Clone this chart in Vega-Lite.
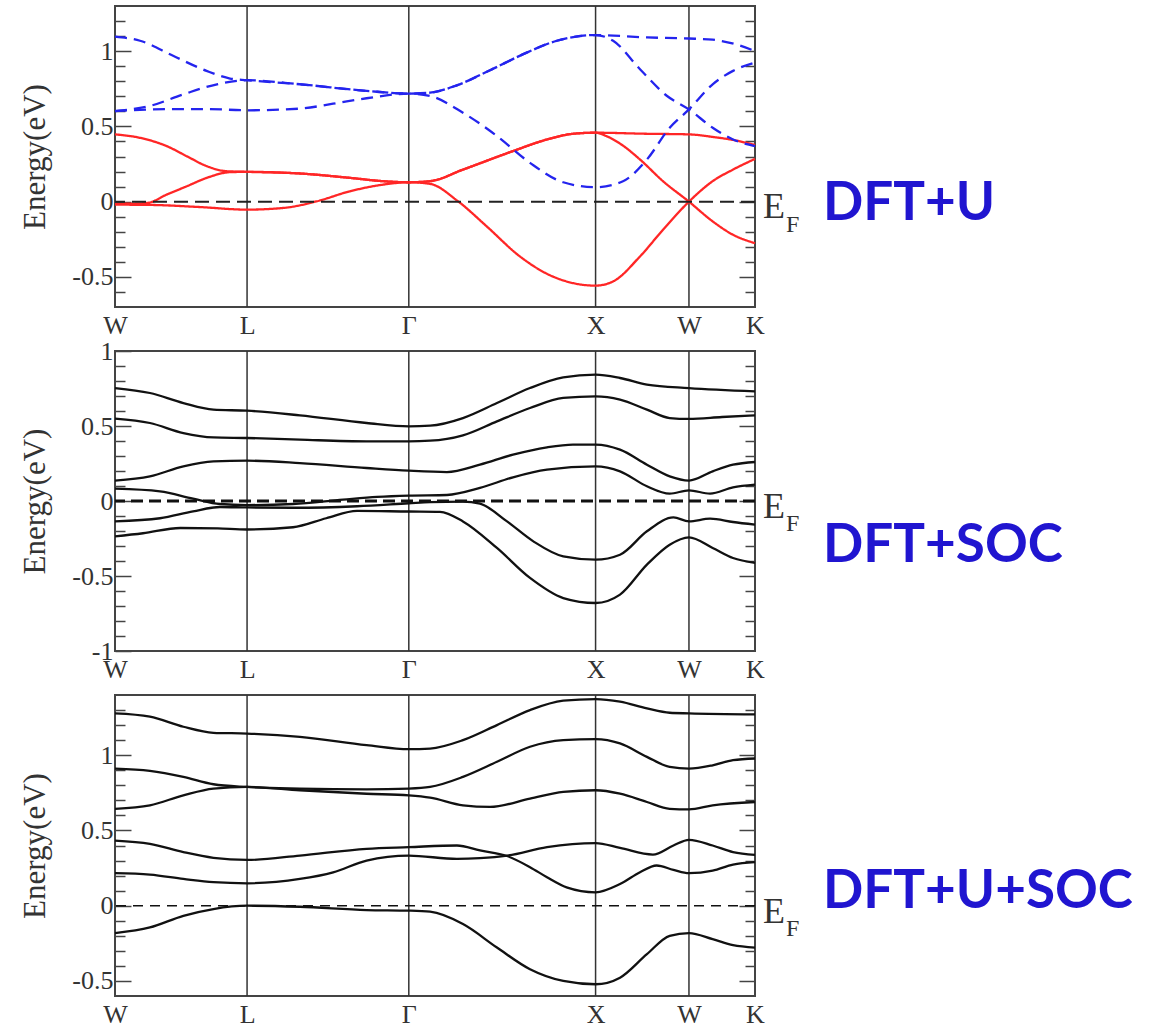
{
"$schema": "https://vega.github.io/schema/vega-lite/v6.json",
"background": "white",
"padding": {"left": 18, "top": 4, "right": 5, "bottom": 30},
"config": {"view": {"stroke": "#444", "strokeWidth": 2}, "axis": {"grid": false, "domain": false, "labelFont": "Liberation Serif", "titleFont": "Liberation Serif", "labelColor": "#333", "titleColor": "#333", "tickColor": "#444", "tickWidth": 1.5, "titleFontWeight": "normal"}, "axisX": {"labelExpr": "datum.value < 0.3 ? 'W' : datum.value < 1 ? 'L' : datum.value < 2 ? 'Γ' : datum.value < 3 ? 'X' : datum.value < 3.3 ? 'W' : 'K'", "ticks": false, "labelFontSize": 26, "labelPadding": 5, "labelFlush": false, "labelOverlap": false}},
"spacing": 44,
"bounds": "flush",
"datasets": {
"sym": [{"k": 0.7071}, {"k": 1.5731}, {"k": 2.5731}, {"k": 3.0731}],
"p1": [
{"band":"R1","spin":"up","k":0,"e":0.447},{"band":"R1","spin":"up","k":0.134,"e":0.424},{"band":"R1","spin":"up","k":0.277,"e":0.369},{"band":"R1","spin":"up","k":0.384,"e":0.302},{"band":"R1","spin":"up","k":0.491,"e":0.236},{"band":"R1","spin":"up","k":0.598,"e":0.202},{"band":"R1","spin":"up","k":0.7071,"e":0.198},{"band":"R1","spin":"up","k":0.99,"e":0.187},{"band":"R1","spin":"up","k":1.258,"e":0.158},{"band":"R1","spin":"up","k":1.435,"e":0.136},{"band":"R1","spin":"up","k":1.5731,"e":0.129},{"band":"R1","spin":"up","k":1.687,"e":0.136},{"band":"R1","spin":"up","k":1.863,"e":0.213},{"band":"R1","spin":"up","k":2.131,"e":0.336},{"band":"R1","spin":"up","k":2.313,"e":0.413},{"band":"R1","spin":"up","k":2.452,"e":0.451},{"band":"R1","spin":"up","k":2.5731,"e":0.458},{"band":"R1","spin":"up","k":2.848,"e":0.451},{"band":"R1","spin":"up","k":3.0731,"e":0.447},{"band":"R1","spin":"up","k":3.2,"e":0.43},{"band":"R1","spin":"up","k":3.33,"e":0.405},{"band":"R1","spin":"up","k":3.4267,"e":0.376},
{"band":"R2","spin":"up","k":0,"e":-0.015},{"band":"R2","spin":"up","k":0.171,"e":-0.009},{"band":"R2","spin":"up","k":0.277,"e":0.047},{"band":"R2","spin":"up","k":0.384,"e":0.102},{"band":"R2","spin":"up","k":0.491,"e":0.158},{"band":"R2","spin":"up","k":0.616,"e":0.196},{"band":"R2","spin":"up","k":0.7071,"e":0.198},{"band":"R2","spin":"up","k":0.99,"e":0.187},{"band":"R2","spin":"up","k":1.258,"e":0.158},{"band":"R2","spin":"up","k":1.435,"e":0.136},{"band":"R2","spin":"up","k":1.5731,"e":0.129},{"band":"R2","spin":"up","k":1.687,"e":0.136},{"band":"R2","spin":"up","k":1.863,"e":0.213},{"band":"R2","spin":"up","k":2.131,"e":0.336},{"band":"R2","spin":"up","k":2.313,"e":0.413},{"band":"R2","spin":"up","k":2.452,"e":0.451},{"band":"R2","spin":"up","k":2.5731,"e":0.458},{"band":"R2","spin":"up","k":2.63,"e":0.436},{"band":"R2","spin":"up","k":2.711,"e":0.38},{"band":"R2","spin":"up","k":2.811,"e":0.28},{"band":"R2","spin":"up","k":2.934,"e":0.136},{"band":"R2","spin":"up","k":3.0731,"e":0},{"band":"R2","spin":"up","k":3.2,"e":-0.131},{"band":"R2","spin":"up","k":3.309,"e":-0.22},{"band":"R2","spin":"up","k":3.4267,"e":-0.276},
{"band":"R3","spin":"up","k":0,"e":-0.02},{"band":"R3","spin":"up","k":0.2,"e":-0.022},{"band":"R3","spin":"up","k":0.455,"e":-0.036},{"band":"R3","spin":"up","k":0.7071,"e":-0.053},{"band":"R3","spin":"up","k":0.9,"e":-0.042},{"band":"R3","spin":"up","k":1.08,"e":0.002},{"band":"R3","spin":"up","k":1.258,"e":0.069},{"band":"R3","spin":"up","k":1.435,"e":0.113},{"band":"R3","spin":"up","k":1.5731,"e":0.129},{"band":"R3","spin":"up","k":1.687,"e":0.118},{"band":"R3","spin":"up","k":1.837,"e":0.002},{"band":"R3","spin":"up","k":1.99,"e":-0.164},{"band":"R3","spin":"up","k":2.168,"e":-0.364},{"band":"R3","spin":"up","k":2.345,"e":-0.498},{"band":"R3","spin":"up","k":2.5731,"e":-0.558},{"band":"R3","spin":"up","k":2.667,"e":-0.53},{"band":"R3","spin":"up","k":2.811,"e":-0.364},{"band":"R3","spin":"up","k":2.934,"e":-0.187},{"band":"R3","spin":"up","k":3.0731,"e":0},{"band":"R3","spin":"up","k":3.2,"e":0.136},{"band":"R3","spin":"up","k":3.309,"e":0.213},{"band":"R3","spin":"up","k":3.4267,"e":0.284},
{"band":"B1","spin":"down","k":0,"e":1.096},{"band":"B1","spin":"down","k":0.134,"e":1.069},{"band":"B1","spin":"down","k":0.311,"e":0.969},{"band":"B1","spin":"down","k":0.49,"e":0.869},{"band":"B1","spin":"down","k":0.616,"e":0.818},{"band":"B1","spin":"down","k":0.7071,"e":0.807},{"band":"B1","spin":"down","k":0.99,"e":0.78},{"band":"B1","spin":"down","k":1.347,"e":0.736},{"band":"B1","spin":"down","k":1.5731,"e":0.718},{"band":"B1","spin":"down","k":1.687,"e":0.724},{"band":"B1","spin":"down","k":1.83,"e":0.773},{"band":"B1","spin":"down","k":2.008,"e":0.873},{"band":"B1","spin":"down","k":2.186,"e":0.98},{"band":"B1","spin":"down","k":2.366,"e":1.069},{"band":"B1","spin":"down","k":2.5731,"e":1.107},{"band":"B1","spin":"down","k":2.848,"e":1.091},{"band":"B1","spin":"down","k":3.0731,"e":1.084},{"band":"B1","spin":"down","k":3.2,"e":1.076},{"band":"B1","spin":"down","k":3.32,"e":1.047},{"band":"B1","spin":"down","k":3.4267,"e":1.0},
{"band":"B2","spin":"down","k":0,"e":0.602},{"band":"B2","spin":"down","k":0.187,"e":0.636},{"band":"B2","spin":"down","k":0.366,"e":0.713},{"band":"B2","spin":"down","k":0.546,"e":0.78},{"band":"B2","spin":"down","k":0.7071,"e":0.807},{"band":"B2","spin":"down","k":0.99,"e":0.78},{"band":"B2","spin":"down","k":1.347,"e":0.736},{"band":"B2","spin":"down","k":1.5731,"e":0.718},{"band":"B2","spin":"down","k":1.687,"e":0.724},{"band":"B2","spin":"down","k":1.83,"e":0.773},{"band":"B2","spin":"down","k":2.008,"e":0.873},{"band":"B2","spin":"down","k":2.186,"e":0.98},{"band":"B2","spin":"down","k":2.366,"e":1.069},{"band":"B2","spin":"down","k":2.5731,"e":1.107},{"band":"B2","spin":"down","k":2.667,"e":1.069},{"band":"B2","spin":"down","k":2.811,"e":0.88},{"band":"B2","spin":"down","k":2.956,"e":0.702},{"band":"B2","spin":"down","k":3.0731,"e":0.613},{"band":"B2","spin":"down","k":3.2,"e":0.491},{"band":"B2","spin":"down","k":3.309,"e":0.413},{"band":"B2","spin":"down","k":3.4267,"e":0.369},
{"band":"B3","spin":"down","k":0,"e":0.602},{"band":"B3","spin":"down","k":0.3,"e":0.615},{"band":"B3","spin":"down","k":0.5,"e":0.615},{"band":"B3","spin":"down","k":0.7071,"e":0.607},{"band":"B3","spin":"down","k":0.99,"e":0.618},{"band":"B3","spin":"down","k":1.168,"e":0.651},{"band":"B3","spin":"down","k":1.347,"e":0.687},{"band":"B3","spin":"down","k":1.5731,"e":0.718},{"band":"B3","spin":"down","k":1.687,"e":0.702},{"band":"B3","spin":"down","k":1.863,"e":0.591},{"band":"B3","spin":"down","k":2.045,"e":0.436},{"band":"B3","spin":"down","k":2.222,"e":0.258},{"band":"B3","spin":"down","k":2.4,"e":0.129},{"band":"B3","spin":"down","k":2.5731,"e":0.096},{"band":"B3","spin":"down","k":2.72,"e":0.136},{"band":"B3","spin":"down","k":2.848,"e":0.28},{"band":"B3","spin":"down","k":2.97,"e":0.491},{"band":"B3","spin":"down","k":3.0731,"e":0.613},{"band":"B3","spin":"down","k":3.2,"e":0.78},{"band":"B3","spin":"down","k":3.309,"e":0.869},{"band":"B3","spin":"down","k":3.4267,"e":0.924}
],
"p2": [
{"band":"S1","k":0,"e":0.753},{"band":"S1","k":0.187,"e":0.72},{"band":"S1","k":0.366,"e":0.653},{"band":"S1","k":0.527,"e":0.609},{"band":"S1","k":0.7071,"e":0.602},{"band":"S1","k":0.99,"e":0.571},{"band":"S1","k":1.347,"e":0.52},{"band":"S1","k":1.5731,"e":0.498},{"band":"S1","k":1.687,"e":0.502},{"band":"S1","k":1.863,"e":0.553},{"band":"S1","k":2.045,"e":0.653},{"band":"S1","k":2.222,"e":0.753},{"band":"S1","k":2.4,"e":0.824},{"band":"S1","k":2.5731,"e":0.842},{"band":"S1","k":2.704,"e":0.82},{"band":"S1","k":2.848,"e":0.776},{"band":"S1","k":3.0731,"e":0.753},{"band":"S1","k":3.4267,"e":0.731},
{"band":"S2","k":0,"e":0.549},{"band":"S2","k":0.187,"e":0.52},{"band":"S2","k":0.366,"e":0.453},{"band":"S2","k":0.527,"e":0.424},{"band":"S2","k":0.7071,"e":0.42},{"band":"S2","k":0.99,"e":0.409},{"band":"S2","k":1.347,"e":0.398},{"band":"S2","k":1.5731,"e":0.398},{"band":"S2","k":1.687,"e":0.402},{"band":"S2","k":1.863,"e":0.438},{"band":"S2","k":2.045,"e":0.531},{"band":"S2","k":2.222,"e":0.62},{"band":"S2","k":2.4,"e":0.687},{"band":"S2","k":2.5731,"e":0.698},{"band":"S2","k":2.704,"e":0.676},{"band":"S2","k":2.848,"e":0.609},{"band":"S2","k":2.97,"e":0.553},{"band":"S2","k":3.0731,"e":0.547},{"band":"S2","k":3.25,"e":0.56},{"band":"S2","k":3.4267,"e":0.571},
{"band":"S3","k":0,"e":0.136},{"band":"S3","k":0.187,"e":0.164},{"band":"S3","k":0.366,"e":0.231},{"band":"S3","k":0.527,"e":0.264},{"band":"S3","k":0.7071,"e":0.269},{"band":"S3","k":0.99,"e":0.253},{"band":"S3","k":1.347,"e":0.22},{"band":"S3","k":1.5731,"e":0.202},{"band":"S3","k":1.777,"e":0.193},{"band":"S3","k":1.954,"e":0.242},{"band":"S3","k":2.131,"e":0.309},{"band":"S3","k":2.313,"e":0.358},{"band":"S3","k":2.452,"e":0.376},{"band":"S3","k":2.5731,"e":0.376},{"band":"S3","k":2.704,"e":0.342},{"band":"S3","k":2.848,"e":0.242},{"band":"S3","k":2.97,"e":0.164},{"band":"S3","k":3.0731,"e":0.136},{"band":"S3","k":3.2,"e":0.198},{"band":"S3","k":3.309,"e":0.242},{"band":"S3","k":3.4267,"e":0.26},
{"band":"S4","k":0,"e":0.082},{"band":"S4","k":0.241,"e":0.064},{"band":"S4","k":0.418,"e":0.016},{"band":"S4","k":0.562,"e":-0.02},{"band":"S4","k":0.7071,"e":-0.027},{"band":"S4","k":0.953,"e":-0.02},{"band":"S4","k":1.221,"e":0.009},{"band":"S4","k":1.403,"e":0.027},{"band":"S4","k":1.5731,"e":0.036},{"band":"S4","k":1.777,"e":0.04},{"band":"S4","k":1.954,"e":0.087},{"band":"S4","k":2.131,"e":0.158},{"band":"S4","k":2.313,"e":0.209},{"band":"S4","k":2.5731,"e":0.231},{"band":"S4","k":2.704,"e":0.198},{"band":"S4","k":2.848,"e":0.098},{"band":"S4","k":2.97,"e":0.049},{"band":"S4","k":3.0731,"e":0.071},{"band":"S4","k":3.186,"e":0.049},{"band":"S4","k":3.309,"e":0.091},{"band":"S4","k":3.4267,"e":0.109},
{"band":"S5","k":0,"e":-0.136},{"band":"S5","k":0.241,"e":-0.115},{"band":"S5","k":0.418,"e":-0.069},{"band":"S5","k":0.562,"e":-0.04},{"band":"S5","k":0.7071,"e":-0.043},{"band":"S5","k":0.953,"e":-0.045},{"band":"S5","k":1.296,"e":-0.035},{"band":"S5","k":1.5731,"e":-0.015},{"band":"S5","k":1.687,"e":-0.007},{"band":"S5","k":1.863,"e":-0.004},{"band":"S5","k":1.954,"e":-0.018},{"band":"S5","k":2.099,"e":-0.136},{"band":"S5","k":2.24,"e":-0.269},{"band":"S5","k":2.4,"e":-0.369},{"band":"S5","k":2.5731,"e":-0.391},{"band":"S5","k":2.704,"e":-0.358},{"band":"S5","k":2.848,"e":-0.202},{"band":"S5","k":2.99,"e":-0.109},{"band":"S5","k":3.0731,"e":-0.136},{"band":"S5","k":3.186,"e":-0.118},{"band":"S5","k":3.309,"e":-0.14},{"band":"S5","k":3.4267,"e":-0.158},
{"band":"S6","k":0,"e":-0.236},{"band":"S6","k":0.15,"e":-0.215},{"band":"S6","k":0.35,"e":-0.18},{"band":"S6","k":0.55,"e":-0.183},{"band":"S6","k":0.7071,"e":-0.19},{"band":"S6","k":0.953,"e":-0.175},{"band":"S6","k":1.131,"e":-0.115},{"band":"S6","k":1.296,"e":-0.066},{"band":"S6","k":1.5731,"e":-0.07},{"band":"S6","k":1.74,"e":-0.072},{"band":"S6","k":1.863,"e":-0.136},{"band":"S6","k":2.045,"e":-0.313},{"band":"S6","k":2.222,"e":-0.513},{"band":"S6","k":2.4,"e":-0.647},{"band":"S6","k":2.5731,"e":-0.68},{"band":"S6","k":2.704,"e":-0.624},{"band":"S6","k":2.848,"e":-0.424},{"band":"S6","k":2.97,"e":-0.291},{"band":"S6","k":3.0731,"e":-0.242},{"band":"S6","k":3.2,"e":-0.313},{"band":"S6","k":3.309,"e":-0.38},{"band":"S6","k":3.4267,"e":-0.413}
],
"p3": [
{"band":"T1","k":0,"e":1.278},{"band":"T1","k":0.187,"e":1.256},{"band":"T1","k":0.366,"e":1.189},{"band":"T1","k":0.527,"e":1.149},{"band":"T1","k":0.7071,"e":1.144},{"band":"T1","k":0.99,"e":1.122},{"band":"T1","k":1.347,"e":1.067},{"band":"T1","k":1.5731,"e":1.04},{"band":"T1","k":1.687,"e":1.044},{"band":"T1","k":1.863,"e":1.1},{"band":"T1","k":2.045,"e":1.2},{"band":"T1","k":2.222,"e":1.3},{"band":"T1","k":2.4,"e":1.362},{"band":"T1","k":2.5731,"e":1.373},{"band":"T1","k":2.704,"e":1.356},{"band":"T1","k":2.848,"e":1.311},{"band":"T1","k":2.97,"e":1.282},{"band":"T1","k":3.0731,"e":1.278},{"band":"T1","k":3.4267,"e":1.271},
{"band":"T2","k":0,"e":0.911},{"band":"T2","k":0.187,"e":0.896},{"band":"T2","k":0.366,"e":0.856},{"band":"T2","k":0.527,"e":0.807},{"band":"T2","k":0.7071,"e":0.789},{"band":"T2","k":0.99,"e":0.778},{"band":"T2","k":1.347,"e":0.773},{"band":"T2","k":1.5731,"e":0.778},{"band":"T2","k":1.687,"e":0.789},{"band":"T2","k":1.863,"e":0.856},{"band":"T2","k":2.045,"e":0.956},{"band":"T2","k":2.222,"e":1.056},{"band":"T2","k":2.4,"e":1.1},{"band":"T2","k":2.5731,"e":1.107},{"band":"T2","k":2.704,"e":1.078},{"band":"T2","k":2.848,"e":0.989},{"band":"T2","k":2.97,"e":0.922},{"band":"T2","k":3.0731,"e":0.911},{"band":"T2","k":3.2,"e":0.933},{"band":"T2","k":3.309,"e":0.967},{"band":"T2","k":3.4267,"e":0.978},
{"band":"T3","k":0,"e":0.644},{"band":"T3","k":0.187,"e":0.667},{"band":"T3","k":0.366,"e":0.733},{"band":"T3","k":0.527,"e":0.778},{"band":"T3","k":0.7071,"e":0.789},{"band":"T3","k":0.99,"e":0.767},{"band":"T3","k":1.347,"e":0.744},{"band":"T3","k":1.5731,"e":0.733},{"band":"T3","k":1.687,"e":0.718},{"band":"T3","k":1.863,"e":0.667},{"band":"T3","k":2.008,"e":0.656},{"band":"T3","k":2.222,"e":0.711},{"band":"T3","k":2.4,"e":0.756},{"band":"T3","k":2.5731,"e":0.767},{"band":"T3","k":2.704,"e":0.744},{"band":"T3","k":2.848,"e":0.689},{"band":"T3","k":2.97,"e":0.644},{"band":"T3","k":3.0731,"e":0.64},{"band":"T3","k":3.2,"e":0.667},{"band":"T3","k":3.4267,"e":0.689},
{"band":"T4","k":0,"e":0.433},{"band":"T4","k":0.187,"e":0.411},{"band":"T4","k":0.366,"e":0.356},{"band":"T4","k":0.527,"e":0.318},{"band":"T4","k":0.7071,"e":0.304},{"band":"T4","k":0.99,"e":0.333},{"band":"T4","k":1.347,"e":0.378},{"band":"T4","k":1.5731,"e":0.389},{"band":"T4","k":1.831,"e":0.4},{"band":"T4","k":1.954,"e":0.367},{"band":"T4","k":2.099,"e":0.33},{"band":"T4","k":2.222,"e":0.256},{"band":"T4","k":2.313,"e":0.189},{"band":"T4","k":2.418,"e":0.122},{"band":"T4","k":2.5731,"e":0.089},{"band":"T4","k":2.704,"e":0.144},{"band":"T4","k":2.811,"e":0.222},{"band":"T4","k":2.9,"e":0.267},{"band":"T4","k":2.99,"e":0.238},{"band":"T4","k":3.0731,"e":0.216},{"band":"T4","k":3.2,"e":0.233},{"band":"T4","k":3.309,"e":0.273},{"band":"T4","k":3.4267,"e":0.289},
{"band":"T5","k":0,"e":0.216},{"band":"T5","k":0.187,"e":0.207},{"band":"T5","k":0.366,"e":0.178},{"band":"T5","k":0.527,"e":0.156},{"band":"T5","k":0.7071,"e":0.149},{"band":"T5","k":0.99,"e":0.178},{"band":"T5","k":1.168,"e":0.222},{"band":"T5","k":1.347,"e":0.3},{"band":"T5","k":1.5731,"e":0.333},{"band":"T5","k":1.831,"e":0.311},{"band":"T5","k":1.954,"e":0.316},{"band":"T5","k":2.099,"e":0.333},{"band":"T5","k":2.313,"e":0.389},{"band":"T5","k":2.5731,"e":0.416},{"band":"T5","k":2.704,"e":0.384},{"band":"T5","k":2.88,"e":0.34},{"band":"T5","k":2.99,"e":0.4},{"band":"T5","k":3.0731,"e":0.438},{"band":"T5","k":3.2,"e":0.4},{"band":"T5","k":3.309,"e":0.356},{"band":"T5","k":3.4267,"e":0.338},
{"band":"T6","k":0,"e":-0.182},{"band":"T6","k":0.187,"e":-0.144},{"band":"T6","k":0.366,"e":-0.067},{"band":"T6","k":0.527,"e":-0.022},{"band":"T6","k":0.7071,"e":0},{"band":"T6","k":0.99,"e":-0.007},{"band":"T6","k":1.347,"e":-0.029},{"band":"T6","k":1.5731,"e":-0.033},{"band":"T6","k":1.687,"e":-0.04},{"band":"T6","k":1.863,"e":-0.122},{"band":"T6","k":2.045,"e":-0.278},{"band":"T6","k":2.222,"e":-0.422},{"band":"T6","k":2.4,"e":-0.5},{"band":"T6","k":2.5731,"e":-0.522},{"band":"T6","k":2.704,"e":-0.478},{"band":"T6","k":2.848,"e":-0.322},{"band":"T6","k":2.97,"e":-0.2},{"band":"T6","k":3.0731,"e":-0.182},{"band":"T6","k":3.2,"e":-0.222},{"band":"T6","k":3.309,"e":-0.262},{"band":"T6","k":3.4267,"e":-0.278}
]
},
"vconcat": [
{
"width": 640, "height": 301,
"resolve": {"axis": {"y": "independent"}},
"layer": [
{"data": {"name": "sym"}, "mark": {"type": "rule", "color": "#333", "strokeWidth": 1.5}, "encoding": {"x": {"field": "k", "type": "quantitative", "scale": {"domain": [0, 3.4267], "nice": false, "zero": false}, "axis": {"values": [0, 0.7071, 1.5731, 2.5731, 3.0731, 3.4267], "title": null}}}},
{"data": {"name": "p1"}, "mark": {"type": "line", "interpolate": "monotone", "strokeWidth": 2.3}, "encoding": {
"x": {"field": "k", "type": "quantitative", "axis": {"values": [0, 0.7071, 1.5731, 2.5731, 3.0731, 3.4267], "title": null}},
"y": {"field": "e", "type": "quantitative", "scale": {"domain": [-0.7, 1.3], "nice": false, "zero": false}, "axis": {"orient": "left", "values": [-0.5, 0, 0.5, 1], "labelExpr": "datum.value + ''", "tickSize": -16, "labelPadding": 18, "labelFontSize": 26, "labelFlush": false, "labelOverlap": false, "title": "Energy(eV)", "titleFontSize": 31, "titlePadding": 20}},
"color": {"field": "spin", "type": "nominal", "scale": {"domain": ["up", "down"], "range": ["#ff2626", "#2424ee"]}, "legend": null},
"strokeDash": {"field": "spin", "type": "nominal", "scale": {"domain": ["up", "down"], "range": [[1, 0], [12, 7]]}, "legend": null},
"detail": {"field": "band"}}},
{"data": {"values": [{}]}, "mark": {"type": "rule", "strokeDash": [14, 7], "strokeWidth": 2, "color": "#222"}, "encoding": {"y": {"datum": 0, "axis": {"orient": "right", "values": [-0.5, 0, 0.5, 1], "labels": false, "tickSize": -16, "title": null}}}},
{"data": {"values": [{}]}, "mark": {"type": "text", "text": "E", "font": "Liberation Serif", "fontSize": 36, "align": "left", "baseline": "alphabetic", "dx": 8, "dy": 16, "color": "#333"}, "encoding": {"x": {"datum": 3.4267, "axis": {"values": [0, 0.7071, 1.5731, 2.5731, 3.0731, 3.4267], "title": null}}, "y": {"datum": 0, "axis": {"orient": "left", "values": [-0.6, -0.4, -0.3, -0.2, -0.1, 0.1, 0.2, 0.3, 0.4, 0.6, 0.7, 0.8, 0.9, 1.1, 1.2], "labels": false, "tickSize": -10, "title": null}}}},
{"data": {"values": [{}]}, "mark": {"type": "text", "text": "F", "font": "Liberation Serif", "fontSize": 24, "align": "left", "baseline": "alphabetic", "dx": 31, "dy": 30, "color": "#333"}, "encoding": {"x": {"datum": 3.4267, "axis": {"values": [0, 0.7071, 1.5731, 2.5731, 3.0731, 3.4267], "title": null}}, "y": {"datum": 0, "axis": {"orient": "right", "values": [-0.6, -0.4, -0.3, -0.2, -0.1, 0.1, 0.2, 0.3, 0.4, 0.6, 0.7, 0.8, 0.9, 1.1, 1.2], "labels": false, "tickSize": -10, "title": null}}}},
{"data": {"values": [{}]}, "mark": {"type": "text", "text": "DFT+U", "font": "Lato", "fontWeight": "bold", "fontSize": 53, "color": "#2015D0", "align": "left", "baseline": "alphabetic", "dx": 68, "dy": 18}, "encoding": {"x": {"datum": 3.4267, "axis": {"values": [0, 0.7071, 1.5731, 2.5731, 3.0731, 3.4267], "title": null}}, "y": {"datum": 0, "axis": null}}}
]
},
{
"width": 640, "height": 300,
"resolve": {"axis": {"y": "independent"}},
"layer": [
{"data": {"name": "sym"}, "mark": {"type": "rule", "color": "#333", "strokeWidth": 1.5}, "encoding": {"x": {"field": "k", "type": "quantitative", "scale": {"domain": [0, 3.4267], "nice": false, "zero": false}, "axis": {"values": [0, 0.7071, 1.5731, 2.5731, 3.0731, 3.4267], "title": null}}}},
{"data": {"name": "p2"}, "mark": {"type": "line", "interpolate": "monotone", "strokeWidth": 2.3, "color": "#111"}, "encoding": {
"x": {"field": "k", "type": "quantitative", "axis": {"values": [0, 0.7071, 1.5731, 2.5731, 3.0731, 3.4267], "title": null}},
"y": {"field": "e", "type": "quantitative", "scale": {"domain": [-1, 1], "nice": false, "zero": false}, "axis": {"orient": "left", "values": [-1, -0.5, 0, 0.5, 1], "labelExpr": "datum.value + ''", "tickSize": -16, "labelPadding": 18, "labelFontSize": 26, "labelFlush": false, "labelOverlap": false, "title": "Energy(eV)", "titleFontSize": 31, "titlePadding": 20}},
"detail": {"field": "band"}}},
{"data": {"values": [{}]}, "mark": {"type": "rule", "strokeDash": [12, 6], "strokeWidth": 3, "color": "#111"}, "encoding": {"y": {"datum": 0, "axis": {"orient": "right", "values": [-0.5, 0, 0.5], "labels": false, "tickSize": -16, "title": null}}}},
{"data": {"values": [{}]}, "mark": {"type": "text", "text": "E", "font": "Liberation Serif", "fontSize": 36, "align": "left", "baseline": "alphabetic", "dx": 8, "dy": 17, "color": "#333"}, "encoding": {"x": {"datum": 3.4267, "axis": {"values": [0, 0.7071, 1.5731, 2.5731, 3.0731, 3.4267], "title": null}}, "y": {"datum": 0, "axis": {"orient": "left", "values": [-0.9, -0.8, -0.7, -0.6, -0.4, -0.3, -0.2, -0.1, 0.1, 0.2, 0.3, 0.4, 0.6, 0.7, 0.8, 0.9], "labels": false, "tickSize": -10, "title": null}}}},
{"data": {"values": [{}]}, "mark": {"type": "text", "text": "F", "font": "Liberation Serif", "fontSize": 24, "align": "left", "baseline": "alphabetic", "dx": 31, "dy": 30, "color": "#333"}, "encoding": {"x": {"datum": 3.4267, "axis": {"values": [0, 0.7071, 1.5731, 2.5731, 3.0731, 3.4267], "title": null}}, "y": {"datum": 0, "axis": {"orient": "right", "values": [-0.9, -0.8, -0.7, -0.6, -0.4, -0.3, -0.2, -0.1, 0.1, 0.2, 0.3, 0.4, 0.6, 0.7, 0.8, 0.9], "labels": false, "tickSize": -10, "title": null}}}},
{"data": {"values": [{}]}, "mark": {"type": "text", "text": "DFT+SOC", "font": "Lato", "fontWeight": "bold", "fontSize": 53, "color": "#2015D0", "align": "left", "baseline": "alphabetic", "dx": 68, "dy": 61}, "encoding": {"x": {"datum": 3.4267, "axis": {"values": [0, 0.7071, 1.5731, 2.5731, 3.0731, 3.4267], "title": null}}, "y": {"datum": 0, "axis": null}}}
]
},
{
"width": 640, "height": 301,
"resolve": {"axis": {"y": "independent"}},
"layer": [
{"data": {"name": "sym"}, "mark": {"type": "rule", "color": "#333", "strokeWidth": 1.5}, "encoding": {"x": {"field": "k", "type": "quantitative", "scale": {"domain": [0, 3.4267], "nice": false, "zero": false}, "axis": {"values": [0, 0.7071, 1.5731, 2.5731, 3.0731, 3.4267], "title": null}}}},
{"data": {"name": "p3"}, "mark": {"type": "line", "interpolate": "monotone", "strokeWidth": 2.3, "color": "#111"}, "encoding": {
"x": {"field": "k", "type": "quantitative", "axis": {"values": [0, 0.7071, 1.5731, 2.5731, 3.0731, 3.4267], "title": null}},
"y": {"field": "e", "type": "quantitative", "scale": {"domain": [-0.6, 1.4], "nice": false, "zero": false}, "axis": {"orient": "left", "values": [-0.5, 0, 0.5, 1], "labelExpr": "datum.value + ''", "tickSize": -16, "labelPadding": 18, "labelFontSize": 26, "labelFlush": false, "labelOverlap": false, "title": "Energy(eV)", "titleFontSize": 31, "titlePadding": 20}},
"detail": {"field": "band"}}},
{"data": {"values": [{}]}, "mark": {"type": "rule", "strokeDash": [10, 7], "strokeWidth": 1.6, "color": "#111"}, "encoding": {"y": {"datum": 0, "axis": {"orient": "right", "values": [-0.5, 0, 0.5, 1], "labels": false, "tickSize": -16, "title": null}}}},
{"data": {"values": [{}]}, "mark": {"type": "text", "text": "E", "font": "Liberation Serif", "fontSize": 36, "align": "left", "baseline": "alphabetic", "dx": 8, "dy": 17, "color": "#333"}, "encoding": {"x": {"datum": 3.4267, "axis": {"values": [0, 0.7071, 1.5731, 2.5731, 3.0731, 3.4267], "title": null}}, "y": {"datum": 0, "axis": {"orient": "left", "values": [-0.4, -0.3, -0.2, -0.1, 0.1, 0.2, 0.3, 0.4, 0.6, 0.7, 0.8, 0.9, 1.1, 1.2, 1.3], "labels": false, "tickSize": -10, "title": null}}}},
{"data": {"values": [{}]}, "mark": {"type": "text", "text": "F", "font": "Liberation Serif", "fontSize": 24, "align": "left", "baseline": "alphabetic", "dx": 31, "dy": 30, "color": "#333"}, "encoding": {"x": {"datum": 3.4267, "axis": {"values": [0, 0.7071, 1.5731, 2.5731, 3.0731, 3.4267], "title": null}}, "y": {"datum": 0, "axis": {"orient": "right", "values": [-0.4, -0.3, -0.2, -0.1, 0.1, 0.2, 0.3, 0.4, 0.6, 0.7, 0.8, 0.9, 1.1, 1.2, 1.3], "labels": false, "tickSize": -10, "title": null}}}},
{"data": {"values": [{}]}, "mark": {"type": "text", "text": "DFT+U+SOC", "font": "Lato", "fontWeight": "bold", "fontSize": 53, "color": "#2015D0", "align": "left", "baseline": "alphabetic", "dx": 68, "dy": 2}, "encoding": {"x": {"datum": 3.4267, "axis": {"values": [0, 0.7071, 1.5731, 2.5731, 3.0731, 3.4267], "title": null}}, "y": {"datum": 0, "axis": null}}}
]
}
]
}
